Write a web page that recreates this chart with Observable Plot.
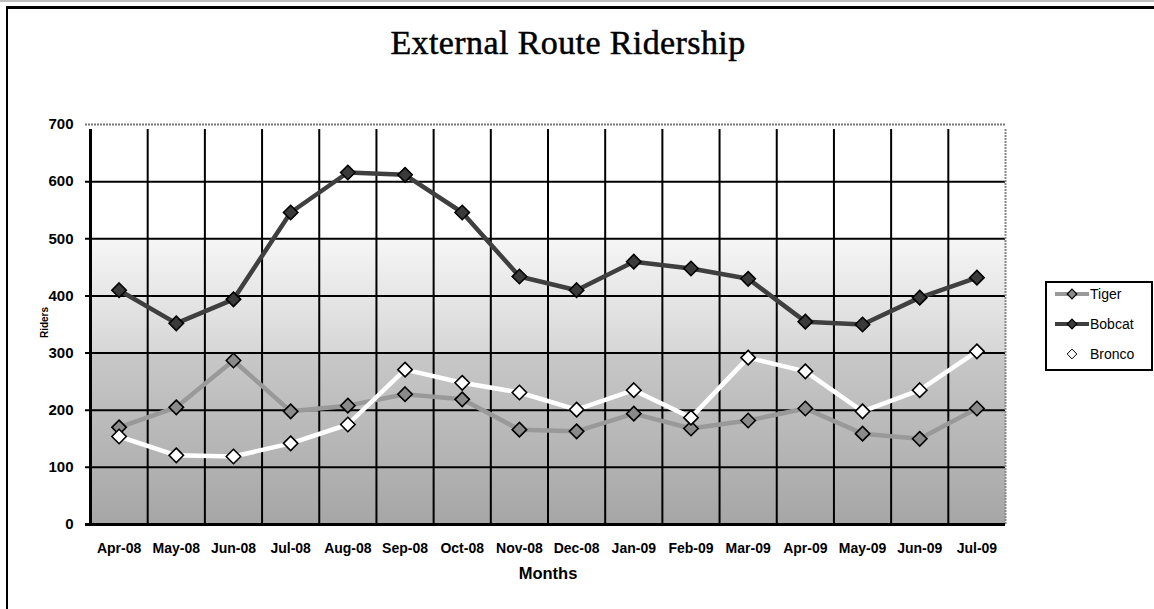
<!DOCTYPE html>
<html>
<head>
<meta charset="utf-8">
<script src="https://cdn.jsdelivr.net/npm/d3@7"></script>
<script src="https://cdn.jsdelivr.net/npm/@observablehq/plot@0.6"></script>
<style>
  html, body { margin: 0; padding: 0; background: #fff; }
  #wrap { position: relative; width: 1154px; height: 609px; overflow: hidden; }
  #topline { position: absolute; left: 0; top: 0; width: 1154px; height: 2px; background: #bdbdbd; }
  #frame { position: absolute; left: 6px; top: 6px; width: 1160px; height: 620px; border-top: 3px solid #000; border-left: 2px solid #000; }
  #title { position: absolute; left: 0; width: 1136px; top: 24px; text-align: center; font-family: "Liberation Serif", "DejaVu Serif", serif; font-size: 34px; color: #000; letter-spacing: 0.4px; -webkit-text-stroke: 0.5px #000; }
  #chart { position: absolute; left: 0; top: 0; }
  #legend { position: absolute; left: 1045px; top: 281px; }
</style>
</head>
<body>
<div id="wrap">
  <div id="topline"></div>
  <div id="frame"></div>
  <div id="chart"></div>
  <div id="title">External Route Ridership</div>
  <div id="legend"></div>
</div>
<script>
const months = ["Apr-08","May-08","Jun-08","Jul-08","Aug-08","Sep-08","Oct-08","Nov-08","Dec-08","Jan-09","Feb-09","Mar-09","Apr-09","May-09","Jun-09","Jul-09"];
const tiger  = [170, 205, 287, 198, 208, 228, 219, 166, 163, 194, 168, 182, 203, 159, 150, 203];
const bobcat = [410, 352, 394, 546, 616, 612, 546, 434, 410, 460, 448, 430, 355, 350, 397, 432];
const bronco = [154, 121, 119, 142, 175, 271, 248, 231, 201, 235, 187, 292, 268, 198, 235, 303];
const yTicks = [0, 100, 200, 300, 400, 500, 600, 700];
const seriesNames = ["Tiger", "Bobcat", "Bronco"];
const seriesLine = {Tiger: "#999999", Bobcat: "#3f3f3f", Bronco: "#ffffff"};
const seriesFill = {Tiger: "#8a8a8a", Bobcat: "#3a3a3a", Bronco: "#ffffff"};

const data = [];
[tiger, bobcat, bronco].forEach((arr, s) => arr.forEach((v, i) => data.push({series: seriesNames[s], i, value: v})));
const idx = months.map((m, i) => i);
const bounds = months.map((m, i) => i - 0.5).concat([months.length - 0.5]);
const font = '"Liberation Sans", Arial, sans-serif';

const chart = Plot.plot({
  width: 1154,
  height: 609,
  marginLeft: 90,
  marginRight: 149,
  marginTop: 124,
  marginBottom: 85,
  x: {type: "linear", domain: [-0.5, months.length - 0.5], axis: null},
  y: {domain: [0, 700], axis: null},
  style: {background: "transparent", fontFamily: font, fontSize: "14px", color: "#000"},
  marks: [
    Plot.frame({fill: "url(#bggrad)", stroke: "none"}),
    Plot.ruleY(yTicks.filter(v => v > 0 && v < 700), {stroke: "#000", strokeWidth: 2, insetLeft: -5}),
    Plot.ruleY([700], {stroke: "#777", strokeWidth: 2, strokeDasharray: "2,1", insetLeft: -5}),
    Plot.ruleX(bounds.slice(1, -1), {y1: 0, y2: 700, stroke: "#000", strokeWidth: 2, insetBottom: -5}),
    Plot.ruleX(bounds.slice(-1), {y1: 0, y2: 700, stroke: "#888", strokeWidth: 2, strokeDasharray: "2,1", insetBottom: -5}),
    Plot.ruleX(bounds.slice(0, 1), {y1: 0, y2: 700, stroke: "#000", strokeWidth: 3, insetBottom: -5}),
    Plot.ruleY([0], {stroke: "#000", strokeWidth: 3, insetLeft: -5}),
    Plot.line(data, {x: "i", y: "value", z: "series", stroke: d => seriesLine[d.series], strokeWidth: 4.5, strokeLinejoin: "round"}),
    Plot.dot(data, {x: "i", y: "value", symbol: "diamond2", r: 6.5, fill: d => seriesFill[d.series], stroke: "#000", strokeWidth: 1.6}),
    Plot.axisY({ticks: yTicks, tickSize: 0, tickPadding: 17, label: null, fontWeight: "bold", fontSize: 15}),
    Plot.axisX({ticks: idx, tickFormat: i => months[i], tickSize: 0, tickPadding: 19, label: null, fontWeight: "bold", fontSize: 14}),
    Plot.text(["Months"], {frameAnchor: "bottom", dy: 54, fontWeight: "bold", fontSize: 16.5}),
    Plot.text(["Riders"], {frameAnchor: "left", textAnchor: "middle", dx: -46, dy: -2, rotate: -90, fontSize: 10, fontWeight: "bold"})
  ]
});

// gradient background definition
const svg = d3.select(chart);
const defs = svg.insert("defs", ":first-child");
const g = defs.append("linearGradient").attr("id", "bggrad").attr("x1", 0).attr("y1", 0).attr("x2", 0).attr("y2", 1);
[[0, "#ffffff"], [0.2857, "#ffffff"], [0.2857, "#f6f6f6"], [0.5714, "#d6d6d6"], [0.5714, "#c8c8c8"], [1, "#a6a6a6"]]
  .forEach(([o, c]) => g.append("stop").attr("offset", o).attr("stop-color", c));
document.getElementById("chart").appendChild(chart);

// legend
const lg = d3.select("#legend").append("svg").attr("width", 109).attr("height", 91);
lg.append("rect").attr("x", 1).attr("y", 1).attr("width", 106).attr("height", 88).attr("fill", "#fff").attr("stroke", "#000").attr("stroke-width", 2);
seriesNames.forEach((name, k) => {
  const cy = 13 + k * 30;
  if (name !== "Bronco") {
    lg.append("line").attr("x1", 10).attr("x2", 44).attr("y1", cy).attr("y2", cy).attr("stroke", seriesLine[name]).attr("stroke-width", 4);
  }
  lg.append("path").attr("d", d3.symbol(d3.symbolDiamond2, 60)()).attr("transform", `translate(27,${cy})`)
    .attr("fill", seriesFill[name]).attr("stroke", "#000").attr("stroke-width", name === "Bronco" ? 1 : 1.2);
  lg.append("text").attr("x", 45).attr("y", cy).attr("dy", "0.36em").attr("font-family", '"Liberation Sans", Arial, sans-serif').attr("font-size", 14).text(name);
});
</script>
</body>
</html>
